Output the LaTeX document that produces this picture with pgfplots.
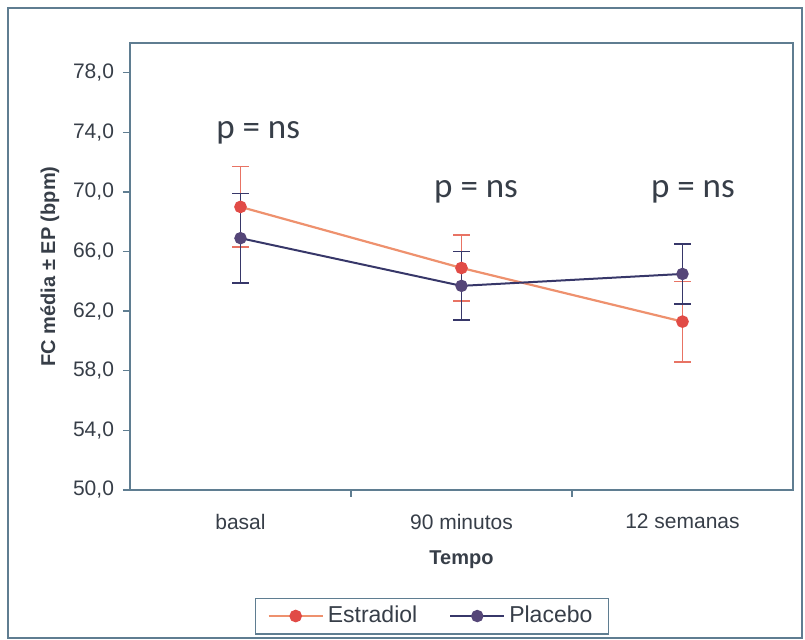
\documentclass[border=0pt]{standalone}
\usepackage{pgfplots}
\pgfplotsset{compat=1.18}
\usepackage{fontspec}
\setmainfont{Liberation Sans}
\newfontfamily\carlito{Carlito}

\definecolor{axiscol}{RGB}{95,125,145}
\definecolor{txtcol}{RGB}{55,62,72}
\definecolor{estline}{RGB}{238,145,110}
\definecolor{estmark}{RGB}{225,75,70}
\definecolor{esterr}{RGB}{232,115,100}
\definecolor{placline}{RGB}{55,55,105}
\definecolor{placmark}{RGB}{85,70,120}

\begin{document}
\begin{tikzpicture}
\begin{axis}[
    scale only axis,
    width=331.5pt, height=223.5pt,
    xmin=0, xmax=3,
    ymin=50, ymax=80,
    ytick={50,54,...,78},
    xtick={0.5,1.5,2.5},
    xticklabels={basal,90 minutos,12 semanas},
    minor xtick={1,2},
    major x tick style={draw=none},
    xtick pos=bottom, ytick pos=left,
    tick align=outside,
    major tick length=3.5pt, minor tick length=3.5pt,
    axis line style={draw=axiscol, line width=0.7pt},
    tick style={draw=axiscol, line width=0.7pt},
    ticklabel style={font=\fontsize{10.5}{12}\selectfont, text=txtcol},
    yticklabel style={xshift=-1pt},
    xticklabel style={yshift=-5pt},
    /pgf/number format/.cd, fixed, fixed zerofill, precision=1, use comma, assume math mode=true,
    /pgfplots/.cd,
    ylabel={\textbf{FC média ± EP (bpm)}},
    xlabel={\textbf{Tempo}},
    label style={font=\fontsize{10}{12}\selectfont, text=txtcol},
    ylabel style={yshift=0pt},
    xlabel style={yshift=-4pt},
    clip=false,
    legend columns=2,
    legend style={at={(0.4555,-0.282)}, anchor=center, draw=axiscol, line width=0.7pt,
        font=\fontsize{11.5}{13}\selectfont, text=txtcol, inner xsep=6pt, inner ysep=2pt,
        /tikz/every even column/.append style={column sep=14pt}},
    legend image code/.code={\draw[mark repeat=2,mark phase=2,#1] plot coordinates {(0pt,0pt) (13.5pt,0pt) (27pt,0pt)};},
]
\addplot[color=estline, line width=1.1pt, mark=*, mark size=2.6pt,
    mark options={fill=estmark, draw=estmark},
    error bars/.cd, y dir=both, y explicit,
    error bar style={color=esterr, line width=0.8pt},
    error mark options={rotate=90, mark size=4.2pt, color=esterr, line width=0.8pt}]
coordinates {
    (0.5,69.0) +- (0,2.7)
    (1.5,64.9) +- (0,2.2)
    (2.5,61.3) +- (0,2.7)
};
\addlegendentry{Estradiol}
\addplot[color=placline, line width=1pt, mark=*, mark size=2.6pt,
    mark options={fill=placmark, draw=placmark},
    error bars/.cd, y dir=both, y explicit,
    error bar style={color=placline, line width=0.8pt},
    error mark options={rotate=90, mark size=4.2pt, color=placline, line width=0.8pt}]
coordinates {
    (0.5,66.9) +- (0,3.0)
    (1.5,63.7) +- (0,2.3)
    (2.5,64.5) +- (0,2.0)
};
\addlegendentry{Placebo}
\node[font=\carlito\fontsize{17.5}{20}\selectfont, text=txtcol] at (axis cs:0.58,74.0) {p = ns};
\node[font=\carlito\fontsize{17.5}{20}\selectfont, text=txtcol] at (axis cs:1.566,70.0) {p = ns};
\node[font=\carlito\fontsize{17.5}{20}\selectfont, text=txtcol] at (axis cs:2.547,70.0) {p = ns};
\end{axis}
\draw[axiscol, line width=0.75pt] ([shift={(-61pt,-74pt)}]current axis.south west) rectangle ([shift={(336pt,241pt)}]current axis.south west);
\path ([shift={(-65pt,-75pt)}]current axis.south west) rectangle ([shift={(337.5pt,245pt)}]current axis.south west);
\end{tikzpicture}
\end{document}
